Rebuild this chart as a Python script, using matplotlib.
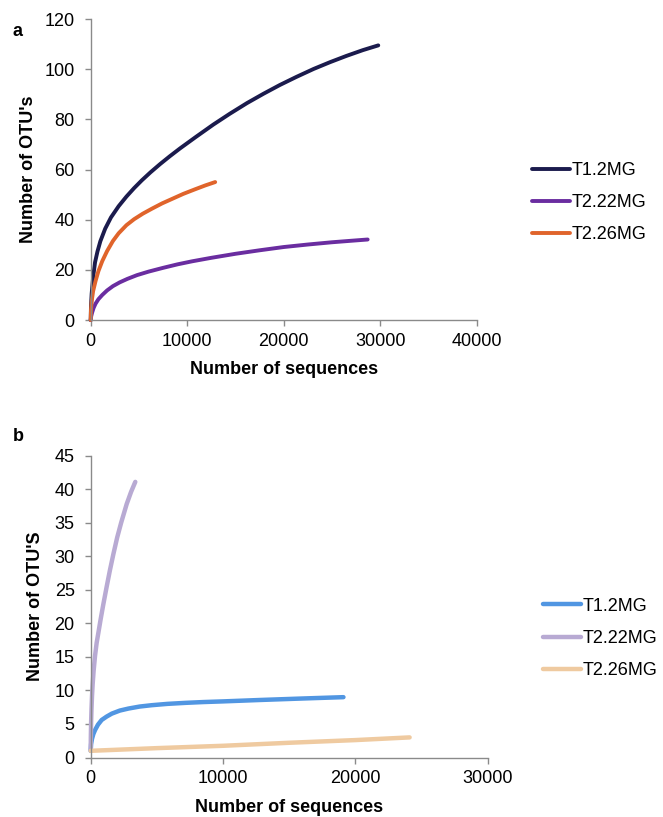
import matplotlib
matplotlib.use("Agg")
import matplotlib.pyplot as plt

plt.rcParams["font.family"] = ["Liberation Sans", "DejaVu Sans"]

# panel a: rarefaction curves
a_t12_x = [0, 30, 100, 250, 450, 700, 1000, 1500, 2100, 2900, 3700, 4500, 5300, 6200, 7200,
           8200, 9250, 10900, 12700, 14400, 16200, 17900, 19600, 21300, 23100, 24800, 26500,
           28200, 29800]
a_t12_y = [0, 5.5, 10.5, 17, 23, 27.3, 31.4, 36.4, 40.9, 45.4, 49.2, 52.6, 55.7, 58.9, 62.2,
           65.3, 68.4, 73.0, 77.9, 82.2, 86.5, 90.2, 93.7, 96.9, 100.1, 102.8, 105.3,
           107.6, 109.5]
a_t222_x = [0, 50, 150, 300, 500, 800, 1200, 1700, 2300, 3000, 3800, 4800, 6000, 7500, 9000,
            10500, 12500, 15000, 17500, 20000, 22500, 25000, 27000, 28700]
a_t222_y = [0, 1.5, 3, 4.8, 6.5, 8.3, 10, 11.8, 13.5, 15, 16.4, 17.9, 19.3, 20.8, 22.2,
            23.4, 24.8, 26.4, 27.8, 29.1, 30.1, 31, 31.6, 32.1]
a_t226_x = [0, 30, 100, 250, 500, 800, 1200, 1700, 2300, 2900, 3700, 4500, 5400, 6350, 7400,
            8500, 9600, 10800, 11900, 12900]
a_t226_y = [0, 4, 7.5, 11.5, 15.5, 19.5, 23.5, 27.5, 31.5, 34.6, 37.8, 40.2, 42.4, 44.4, 46.5,
            48.4, 50.3, 52.1, 53.7, 55.0]

# panel b
b_t12_x = [0, 30, 100, 200, 330, 550, 830, 1200, 1600, 2200, 2850, 3700, 4600, 5800, 7150,
           8500, 10000, 12800, 16000, 19100]
b_t12_y = [1, 2, 2.8, 3.5, 4.1, 4.9, 5.6, 6.1, 6.55, 7.0, 7.3, 7.6, 7.8, 8.0, 8.15,
           8.27, 8.37, 8.58, 8.8, 9.0]
b_t222_x = [0, 10, 30, 60, 100, 150, 220, 330, 450, 580, 750, 950, 1200, 1450, 1710, 2000,
            2300, 2720, 3050, 3370]
b_t222_y = [1, 3, 5.2, 7.2, 9.2, 11, 12.9, 15.2, 17.1, 18.6, 20.6, 22.8, 25.4, 27.9, 30.3, 32.8,
            35.0, 37.8, 39.6, 41.1]
b_t226_x = [0, 5000, 10000, 15000, 20000, 24100]
b_t226_y = [1, 1.4, 1.75, 2.2, 2.6, 3.0]

labels = ["T1.2MG", "T2.22MG", "T2.26MG"]
colors_a = ["#1b1b4d", "#6a2da0", "#e0642b"]
colors_b = ["#5196e2", "#b8aad3", "#efcaa0"]

SPINE = "#8a8a8a"
FS = 13


def style_axes(ax, xmax, xstep, ymax, ystep):
    ax.set_xlim(0, xmax)
    ax.set_ylim(0, ymax)
    ax.set_xticks(range(0, xmax + 1, xstep))
    ax.set_yticks(range(0, ymax + 1, ystep))
    for side in ["top", "right"]:
        ax.spines[side].set_visible(False)
    for side in ["left", "bottom"]:
        ax.spines[side].set_color(SPINE)
        ax.spines[side].set_linewidth(1.0)
    ax.tick_params(axis="both", direction="out", length=4, width=1.0,
                   color=SPINE, labelsize=FS, labelcolor="black")
    ax.tick_params(axis="x", pad=5)
    ax.tick_params(axis="y", pad=7.5)
    ax.set_xlabel("Number of sequences", fontsize=FS, fontweight="bold", va="center")
    ax.xaxis.set_label_coords(0.5, -0.166)


fig = plt.figure(figsize=(6.63, 8.17), dpi=100)

ax1 = fig.add_axes([0.1368, 0.6083, 0.5822, 0.3684])
for xs, ys, c, lab in zip([a_t12_x, a_t222_x, a_t226_x], [a_t12_y, a_t222_y, a_t226_y], colors_a, labels):
    ax1.plot(xs, ys, color=c, lw=2.8, solid_capstyle="round", solid_joinstyle="round",
             label=lab, clip_on=False)
style_axes(ax1, 40000, 10000, 120, 20)
ax1.set_ylabel("Number of OTU's", fontsize=FS, fontweight="bold", va="center")
ax1.yaxis.set_label_coords(-0.16, 0.5)
ax1.legend(loc="center left", bbox_to_anchor=(0.802, 0.752), bbox_transform=fig.transFigure,
           frameon=False, fontsize=FS, handlelength=2.1, handletextpad=0.1,
           labelspacing=0.84, borderpad=0, borderaxespad=0)
fig.text(0.026, 0.961, "a", fontsize=FS, fontweight="bold", ha="center", va="center")

ax2 = fig.add_axes([0.1368, 0.0728, 0.5988, 0.3694])
for xs, ys, c, lab in zip([b_t12_x, b_t222_x, b_t226_x], [b_t12_y, b_t222_y, b_t226_y], colors_b, labels):
    ax2.plot(xs, ys, color=c, lw=3.2, solid_capstyle="round", solid_joinstyle="round",
             label=lab, clip_on=False)
style_axes(ax2, 30000, 10000, 45, 5)
ax2.set_ylabel("Number of OTU'S", fontsize=FS, fontweight="bold", va="center")
ax2.yaxis.set_label_coords(-0.14, 0.5)
ax2.legend(loc="center left", bbox_to_anchor=(0.8195, 0.2187), bbox_transform=fig.transFigure,
           frameon=False, fontsize=FS, handlelength=2.1, handletextpad=0.1,
           labelspacing=0.84, borderpad=0, borderaxespad=0)
fig.text(0.027, 0.466, "b", fontsize=FS, fontweight="bold", ha="center", va="center")

fig.savefig("out.png", dpi=100)
plt.close(fig)
